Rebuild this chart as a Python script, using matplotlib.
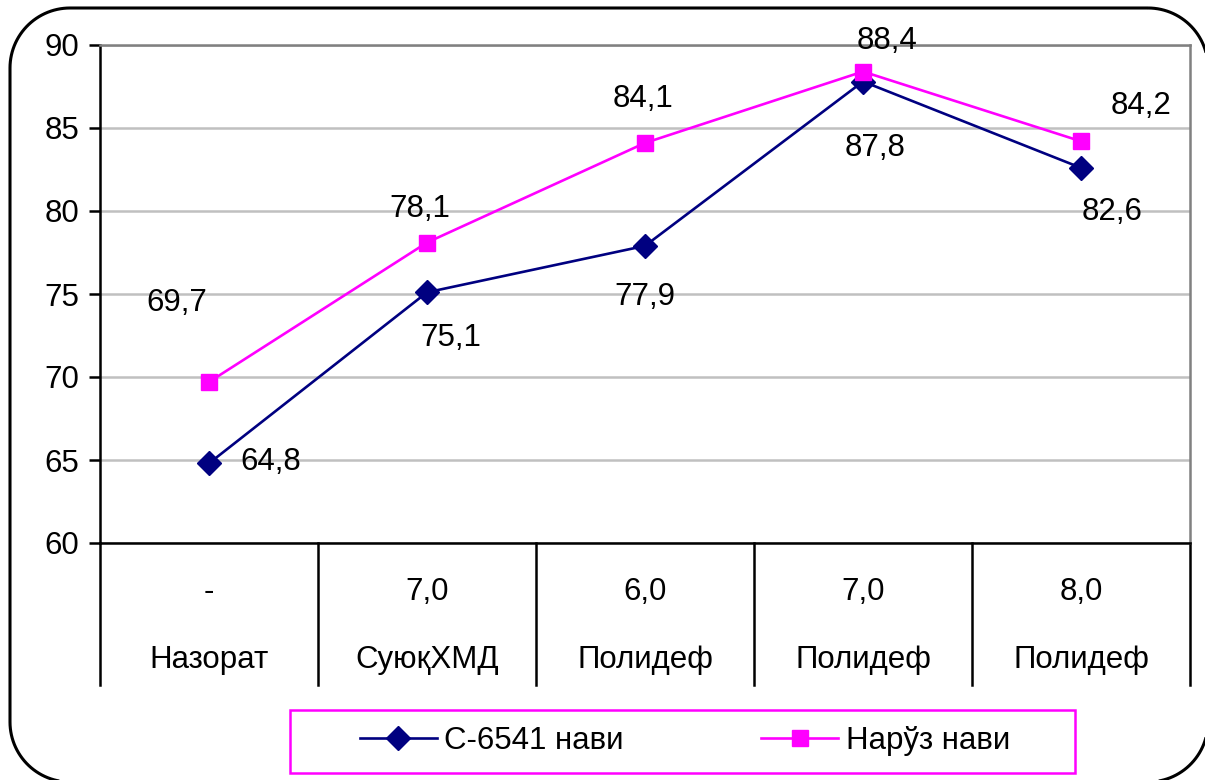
import numpy as np
import matplotlib
matplotlib.use('Agg')
import matplotlib.pyplot as plt
import matplotlib.transforms as mtransforms
from matplotlib.patches import Polygon, Rectangle

plt.rcParams['font.family'] = ['Liberation Sans', 'DejaVu Sans']

doses = ['-', '7,0', '6,0', '7,0', '8,0']
products = ['Назорат', 'СуюқХМД', 'Полидеф', 'Полидеф', 'Полидеф']
c6541 = [64.8, 75.1, 77.9, 87.8, 82.6]
naruz = [69.7, 78.1, 84.1, 88.4, 84.2]
names = ['С-6541 нави', 'Нарўз нави']

# label offsets in pixels (dx, dy)
c_offsets = [(62, 1), (24, -46), (0, -51), (12, -66), (31, -44)]
n_offsets = [(-32, 79), (-7, 34), (-2, 44), (24, 31), (60, 35)]

fs = 22.5
W, H = 1205, 780
fig = plt.figure(figsize=(W / 100, H / 100), dpi=100)
ax = fig.add_axes([100 / W, 1 - 543 / H, 1090 / W, 498 / H])

x = list(range(len(doses)))
ax.plot(x, c6541, color='#000080', lw=1.9, marker='D', ms=12, label=names[0], zorder=3)
ax.plot(x, naruz, color='#ff00ff', lw=1.9, marker='s', ms=12, label=names[1], zorder=3)

for i in x:
    ax.annotate('{:.1f}'.format(c6541[i]).replace('.', ','), (i, c6541[i]),
                xytext=c_offsets[i], textcoords='offset pixels',
                ha='center', va='center', fontsize=fs)
    ax.annotate('{:.1f}'.format(naruz[i]).replace('.', ','), (i, naruz[i]),
                xytext=n_offsets[i], textcoords='offset pixels',
                ha='center', va='center', fontsize=fs)

ax.set_xlim(-0.5, 4.5)
ax.set_ylim(60, 90)
ax.set_yticks(range(60, 91, 5))
ax.tick_params(axis='y', labelsize=fs, length=8, width=1.8, pad=7)
ax.set_xticks([])
ax.yaxis.grid(True, color='#c0c0c0', lw=1.8)
ax.set_axisbelow(True)
for s in ['top', 'right']:
    ax.spines[s].set_color('#808080')
    ax.spines[s].set_linewidth(1.8)
ax.spines['left'].set_linewidth(1.8)
ax.spines['bottom'].set_linewidth(1.8)

# category table below the axis
trans = mtransforms.blended_transform_factory(ax.transData, ax.transAxes)
for i in range(len(doses) + 1):
    ax.plot([i - 0.5, i - 0.5], [0, -0.285], color='black', lw=1.8,
            transform=trans, clip_on=False)
for i in x:
    ax.text(i, -0.098, doses[i], transform=trans, ha='center', va='center', fontsize=fs)
    ax.text(i, -0.235, products[i], transform=trans, ha='center', va='center', fontsize=fs)

# legend box drawn as its own rectangle, entries placed inside
fig.patches.append(Rectangle((290 / W, 1 - 773 / H), 785 / W, 63 / H,
                             transform=fig.transFigure, fill=False,
                             edgecolor='#ff00ff', lw=1.8))
fig.legend(loc='center', bbox_to_anchor=(685 / W, 1 - 741 / H), ncol=2,
           fontsize=fs, frameon=False, handlelength=2.45,
           handletextpad=0.25, columnspacing=4.4)

# rounded outer frame (pixel coordinates, y down)
left, top, right, bottom, r = 10, 8, 1208, 782, 60
t = np.linspace(0, np.pi / 2, 30)
pts = []
for cx, cy, a0 in [(right - r, top + r, -np.pi / 2), (right - r, bottom - r, 0),
                   (left + r, bottom - r, np.pi / 2), (left + r, top + r, np.pi)]:
    for a in a0 + t:
        pts.append((cx + r * np.cos(a), cy + r * np.sin(a)))
pts = [(px / W, 1 - py / H) for px, py in pts]
fig.patches.append(Polygon(pts, closed=True, fill=False, edgecolor='black',
                           lw=2.2, transform=fig.transFigure))

fig.savefig('out.png', dpi=100)
